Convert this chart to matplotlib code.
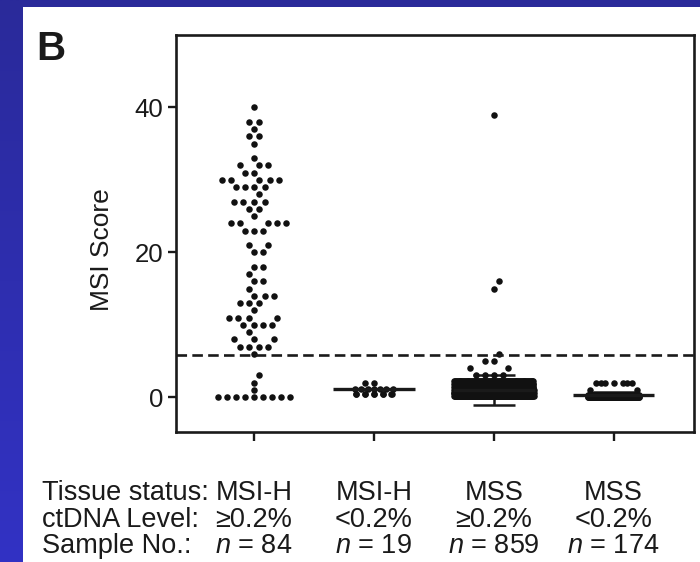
import numpy as np
import matplotlib
matplotlib.use('Agg')
import matplotlib.pyplot as plt
from matplotlib.patches import Rectangle
from matplotlib.colors import LinearSegmentedColormap

plt.rcParams['font.family'] = ['Liberation Sans', 'DejaVu Sans']
plt.rcParams['mathtext.fontset'] = 'custom'
plt.rcParams['mathtext.it'] = 'Liberation Sans:italic'
plt.rcParams['mathtext.rm'] = 'Liberation Sans'

tissue = ['MSI-H', 'MSI-H', 'MSS', 'MSS']
ctdna = ['\u22650.2%', '<0.2%', '\u22650.2%', '<0.2%']
n_samples = [84, 19, 859, 174]

# score levels and number of dots at each level
g1_scores = [40, 38, 37, 36, 35, 33, 32, 31, 30, 29, 28, 27, 26, 25, 24, 23, 21, 20,
             18, 17, 16, 15, 14, 13, 12, 11, 10, 9, 8, 7, 6, 3, 2, 1, 0]
g1_counts = [1, 2, 1, 2, 1, 1, 3, 2, 5, 4, 1, 4, 2, 1, 5, 3, 2, 2,
             2, 1, 2, 1, 3, 3, 1, 4, 4, 1, 3, 4, 1, 1, 1, 1, 9]
g2_scores = [2, 1.2, 0.5]
g2_counts = [2, 7, 10]
g3_scores = [39, 16, 15, 6, 5, 4, 3, 2.2, 1.8, 1.4, 1.0, 0.6, 0.2]
g3_counts = [1, 1, 1, 1, 2, 2, 4, 90, 120, 140, 160, 170, 167]
g4_scores = [2, 1, 0.3, 0]
g4_counts = [7, 2, 60, 105]

# centre line and error bar of each group (nan = none drawn)
centre = [np.nan, 1.2, 1.0, 0.27]
spread = [np.nan, np.nan, 2.1, 0.45]

cutoff = 5.8

groups = [(g1_scores, g1_counts), (g2_scores, g2_counts),
          (g3_scores, g3_counts), (g4_scores, g4_counts)]
half_width_px = [40, 22, 40, 26]   # how far a swarm may spread
dot_gap_px = 9.0


def swarm(ypx, d, w):
    # beeswarm in pixel space; points that don't fit fill their row evenly
    order = np.argsort(ypx, kind='stable')
    xs = np.zeros(len(ypx))
    px, py = [], []
    left_over = {}
    for n, i in enumerate(order):
        y = ypx[i]
        side = 1 if n % 2 else -1
        if px:
            ax_ = np.array(px)
            ay = np.array(py)
            near = np.abs(ay - y) < d
            nx = ax_[near]
            dy = ay[near] - y
        else:
            nx = np.array([])
        if len(nx):
            dx = np.sqrt(d * d - dy * dy)
            cand = np.concatenate([[0.0], nx + dx, nx - dx])
            cand = cand[np.argsort(np.abs(cand) - 1e-6 * side * cand, kind='stable')]
            dist = (cand[:, None] - nx[None, :]) ** 2 + dy[None, :] ** 2
            ok = np.all(dist >= d * d - 1e-6, axis=1)
            c = cand[np.argmax(ok)]
        else:
            c = 0.0
        if abs(c) > w:
            left_over.setdefault(y, []).append(i)
        else:
            xs[i] = c
            px.append(c)
            py.append(y)
    for y, idx in left_over.items():
        m = len(idx)
        xs[idx] = -w + 2 * w * (np.arange(m) + 0.5) / m
    return xs


fig = plt.figure(figsize=(7, 5.62), dpi=100)

# blue slide border with white panel
bg = fig.add_axes([0, 0, 1, 1], zorder=0)
blue = LinearSegmentedColormap.from_list('slide', ['#2a2a9a', '#3232c4'])
bg.imshow(np.linspace(0, 1, 256)[:, None], aspect='auto', cmap=blue,
          extent=[0, 1, 0, 1], origin='upper')
bg.add_patch(Rectangle((23 / 700, 0), 1, 1 - 7 / 562, transform=bg.transAxes,
                       facecolor='white', edgecolor='none'))
bg.set_xlim(0, 1)
bg.set_ylim(0, 1)
bg.axis('off')

ax = fig.add_axes([176 / 700, 1 - 432 / 562, 518 / 700, 397 / 562], zorder=1)
ax.set_xlim(-0.65, 3.67)
ax.set_ylim(-4.8, 50)

pos = ax.get_position()
xpx = pos.width * 700 / (3.67 + 0.65)
ypx = pos.height * 562 / (50 + 4.8)

for k, (scores, counts) in enumerate(groups):
    vals = np.repeat(np.array(scores, float), counts)
    off = swarm(vals * ypx, dot_gap_px, half_width_px[k])
    ax.scatter(k + off / xpx, vals, s=22, color='#111111', linewidths=0, zorder=3)

for k in range(4):
    if not np.isnan(centre[k]):
        ax.hlines(centre[k], k - 0.34, k + 0.34, color='#1a1a1a', lw=2.4, zorder=4)
    if not np.isnan(spread[k]):
        ax.errorbar(k, centre[k], yerr=spread[k], fmt='none', ecolor='#1a1a1a',
                    elinewidth=1.8, capsize=15, capthick=1.8, zorder=2)

ax.axhline(cutoff, color='#1a1a1a', lw=1.9, linestyle=(0, (4, 2)), zorder=5)

for s in ax.spines.values():
    s.set_linewidth(1.9)
    s.set_color('#1a1a1a')
ax.set_yticks([0, 20, 40])
ax.set_xticks(range(4))
ax.set_xticklabels([])
ax.tick_params(axis='y', length=6, width=1.7, pad=3, labelsize=18.5, colors='#1a1a1a')
ax.tick_params(axis='x', length=6.5, width=1.7, colors='#1a1a1a')

fig.text(102 / 700, 1 - 250 / 562, 'MSI Score', fontsize=19, rotation=90,
         ha='center', va='center', color='#1a1a1a')
fig.text(51 / 700, 1 - 49 / 562, 'B', fontsize=29, fontweight='bold',
         ha='center', va='center', color='#1a1a1a')

rows = [('Tissue status:', tissue),
        ('ctDNA Level:', ctdna),
        ('Sample No.:', ['$n$ = %d' % n for n in n_samples])]
baselines = [500, 527, 553]
for (head, cells), yb in zip(rows, baselines):
    yf = 1 - yb / 562
    fig.text(42 / 700, yf, head, fontsize=19.5, va='baseline', ha='left', color='#1a1a1a')
    for k, c in enumerate(cells):
        xf = (176 + (k + 0.65) * xpx) / 700
        fig.text(xf, yf, c, fontsize=19.5, va='baseline', ha='center', color='#1a1a1a')

fig.savefig('out.png', dpi=100)
